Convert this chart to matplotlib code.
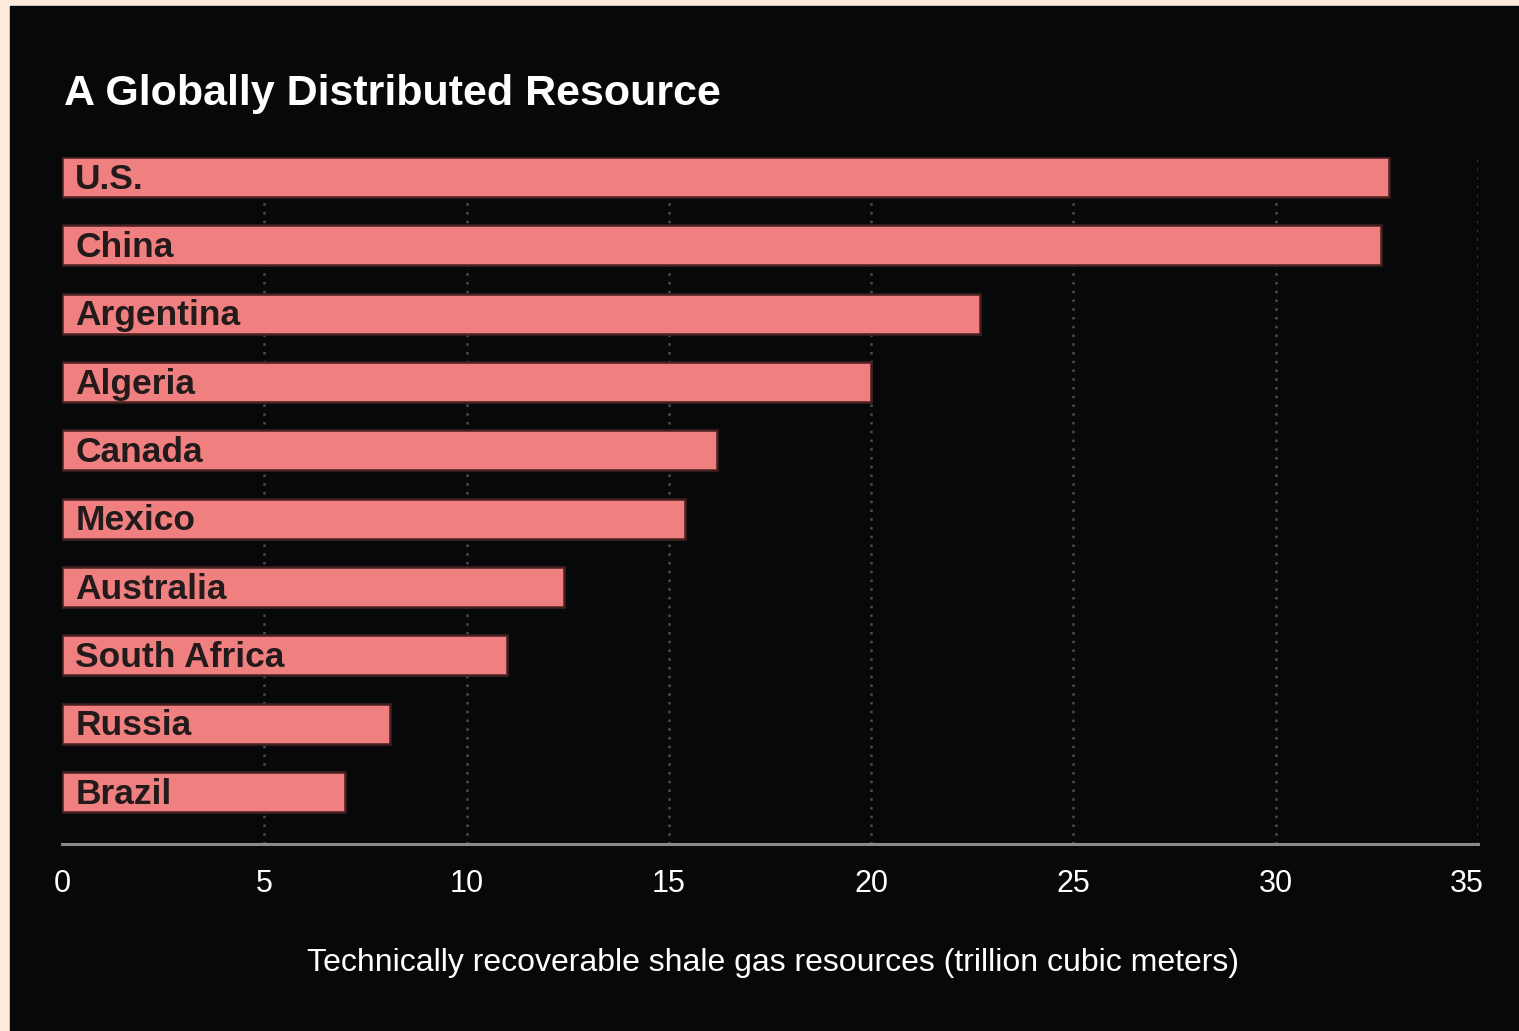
import matplotlib.pyplot as plt
from matplotlib.patches import Rectangle
from matplotlib.transforms import ScaledTranslation

# shale gas resources, trillion cubic meters
countries = ["U.S.", "China", "Argentina", "Algeria", "Canada", "Mexico",
             "Australia", "South Africa", "Russia", "Brazil"]
resources = [32.8, 32.6, 22.7, 20.0, 16.2, 15.4, 12.4, 11.0, 8.1, 7.0]
ticks = [0, 5, 10, 15, 20, 25, 30, 35]

W, H = 1519, 1031
fig = plt.figure(figsize=(W / 100, H / 100), dpi=100)
fig.patch.set_facecolor("#fdebdc")
fig.patches.append(Rectangle((10 / W, 0), 1 - 10 / W, 1 - 6 / H,
                             transform=fig.transFigure, color="#07080a", zorder=-10))

ax = fig.add_axes([62 / W, (H - 844) / H, (1478 - 62) / W, (844 - 157) / H])
ax.set_facecolor("none")

ypos = list(range(len(countries)))
ax.barh(ypos, resources, height=0.585, color="#f08080",
        edgecolor="#45201f", linewidth=1.8, zorder=3)
for y, name in zip(ypos, countries):
    ax.text(0.33, y + 0.03, name, va="center", ha="left", fontsize=25.5,
            fontweight="bold", family="Liberation Sans", color="#231a1b", zorder=4)

ax.set_xlim(0, 35)
ax.set_ylim(9.76, -0.2925)
ax.set_xticks(ticks)
ax.set_xticklabels([str(t) for t in ticks], family="Liberation Sans",
                   fontsize=22, color="white")
ax.set_yticks([])
ax.tick_params(axis="x", length=0, pad=18)
# keep the last label inside the frame
last = ax.get_xticklabels()[-1]
last.set_transform(last.get_transform() + ScaledTranslation(-11 / 100, 0, fig.dpi_scale_trans))
for t in ticks[1:]:
    ax.axvline(t, color="#4a4b4e", linestyle=(0, (1, 2.5)), linewidth=1.8, zorder=1)

for s in ["top", "right", "left"]:
    ax.spines[s].set_visible(False)
ax.spines["bottom"].set_color("#8a8a8a")
ax.spines["bottom"].set_linewidth(2.2)
ax.spines["bottom"].set_zorder(5)

fig.text(773 / W, 1 - 963 / H,
         "Technically recoverable shale gas resources (trillion cubic meters)",
         family="Liberation Sans", fontsize=23, color="white", ha="center", va="center")

fig.text(64 / W, 1 - 94 / H, "A Globally Distributed Resource", family="Liberation Sans",
         fontsize=31, fontweight="bold", color="white", va="center", ha="left")

fig.savefig("out.png", dpi=100)
